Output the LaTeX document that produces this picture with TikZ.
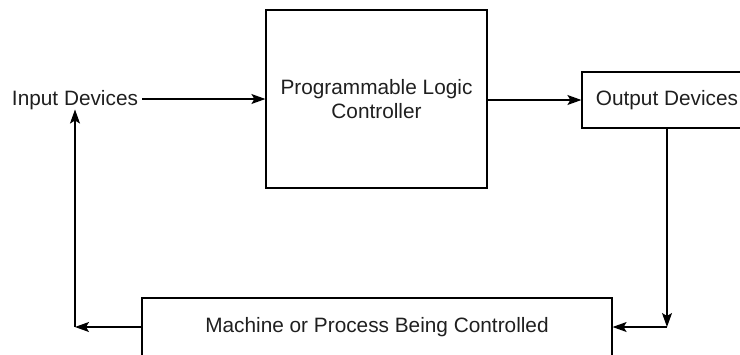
\documentclass[tikz,border=0pt]{standalone}
\usepackage{fontspec}
\setmainfont{Liberation Sans}
\usetikzlibrary{arrows.meta}
\begin{document}
\begin{tikzpicture}[x=1pt,y=-1pt,
  every node/.style={font=\fontsize{20.8}{23.5}\selectfont, text=black!88},
  block/.style={draw, line width=1.2pt, inner sep=0pt, align=center},
  flow/.style={line width=1.2pt, -{Stealth[length=14pt,width=10pt,inset=3pt]}},
  wire/.style={line width=1.2pt}]
  \useasboundingbox (0,0) rectangle (740,354);
  \clip (0,0) rectangle (740,354);

  % blocks of the control loop
  \node[block, minimum width=221pt, minimum height=178pt] (plc) at (376.5,99)
    {Programmable Logic\\Controller};
  \node[block, minimum width=170pt, minimum height=56pt] (out) at (667,100)
    {Output Devices};
  \node[block, minimum width=470pt, minimum height=58pt] (mach) at (377,327)
    {Machine or Process Being Controlled};
  \node[inner xsep=4pt, inner ysep=0pt, anchor=base] (in) at (75,105)
    {Input Devices};

  % corner points of the feedback path
  \coordinate (rc) at (out.south |- mach.east);
  \coordinate (lc) at (in.south |- mach.west);

  % connectors
  \draw[flow] (in.east |- plc.west) -- (plc.west);
  \draw[flow] (plc.east |- out.west) -- (out.west);
  \draw[flow] (out.south) -- (rc);
  \draw[flow] (rc) -- (mach.east);
  \draw[flow] (mach.west) -- (lc);
  \draw[flow] (lc) -- (in.south);
\end{tikzpicture}
\end{document}
